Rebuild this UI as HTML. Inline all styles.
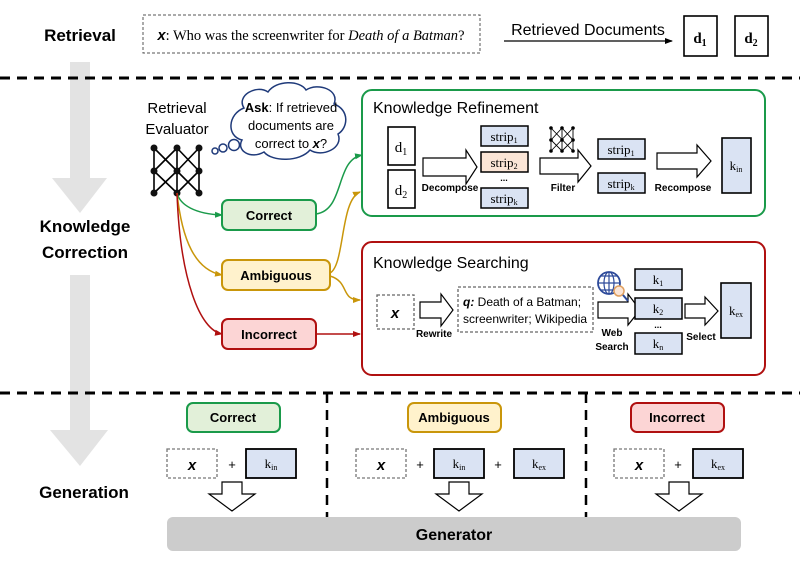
<!DOCTYPE html>
<html><head><meta charset="utf-8"><style>
html,body{margin:0;padding:0;background:#fff}
svg{display:block}
text{font-family:"Liberation Sans",sans-serif}
.s{font-family:"Liberation Serif",serif}
.b{font-weight:bold}
</style></head><body>
<svg width="800" height="563" viewBox="0 0 800 563" xmlns="http://www.w3.org/2000/svg">
<defs>
<marker id="ag" markerWidth="8" markerHeight="8" refX="7" refY="4" orient="auto" markerUnits="userSpaceOnUse"><path d="M0,1 L8,4 L0,7z" fill="#1a9a4a"/></marker>
<marker id="ay" markerWidth="8" markerHeight="8" refX="7" refY="4" orient="auto" markerUnits="userSpaceOnUse"><path d="M0,1 L8,4 L0,7z" fill="#c9960a"/></marker>
<marker id="ar" markerWidth="8" markerHeight="8" refX="7" refY="4" orient="auto" markerUnits="userSpaceOnUse"><path d="M0,1 L8,4 L0,7z" fill="#b01010"/></marker>
<marker id="ak" markerWidth="8" markerHeight="8" refX="7" refY="4" orient="auto" markerUnits="userSpaceOnUse"><path d="M0,1 L8,4 L0,7z" fill="#000"/></marker>
</defs>
<rect x="70" y="62" width="20" height="118" fill="#e3e3e3"/>
<path d="M52,178 L107,178 L80,213z" fill="#e3e3e3"/>
<rect x="70" y="275" width="20" height="157" fill="#e3e3e3"/>
<path d="M50,430 L108,430 L80,466z" fill="#e3e3e3"/>

<text x="80" y="41" text-anchor="middle" class="b" font-size="17">Retrieval</text>
<rect x="143" y="15" width="337" height="38" fill="none" stroke="#555" stroke-dasharray="3,2"/>
<text x="311" y="40" text-anchor="middle" class="s" font-size="14.5"><tspan font-weight="bold" font-style="italic" font-family="Liberation Sans">x</tspan>: Who was the screenwriter for <tspan font-style="italic">Death of a Batman</tspan>?</text>
<text x="588" y="35" text-anchor="middle" font-size="16">Retrieved Documents</text>
<line x1="504" y1="41" x2="672" y2="41" stroke="#000" stroke-width="1.3" marker-end="url(#ak)"/>
<rect x="684" y="16" width="33" height="40" fill="#fff" stroke="#000" stroke-width="1.6"/>
<text x="700" y="43" text-anchor="middle" class="s b" font-size="15">d<tspan font-size="10" dy="3">1</tspan></text>
<rect x="735" y="16" width="33" height="40" fill="#fff" stroke="#000" stroke-width="1.6"/>
<text x="751" y="43" text-anchor="middle" class="s b" font-size="15">d<tspan font-size="10" dy="3">2</tspan></text>

<line x1="0" y1="78" x2="800" y2="78" stroke="#000" stroke-width="3" stroke-dasharray="10,7"/>

<text x="85" y="232" text-anchor="middle" class="b" font-size="17">Knowledge</text>
<text x="85" y="258" text-anchor="middle" class="b" font-size="17">Correction</text>

<text x="177" y="113" text-anchor="middle" font-size="15">Retrieval</text>
<text x="177" y="134" text-anchor="middle" font-size="15">Evaluator</text>
<g stroke="#000" stroke-width="1.6">
<line x1="154" y1="148" x2="154" y2="193"/><line x1="177" y1="148" x2="177" y2="193"/><line x1="199" y1="148" x2="199" y2="193"/>
<line x1="154" y1="148" x2="177" y2="171"/><line x1="177" y1="148" x2="154" y2="171"/>
<line x1="177" y1="148" x2="199" y2="171"/><line x1="199" y1="148" x2="177" y2="171"/>
<line x1="154" y1="171" x2="177" y2="193"/><line x1="177" y1="171" x2="154" y2="193"/>
<line x1="177" y1="171" x2="199" y2="193"/><line x1="199" y1="171" x2="177" y2="193"/>
</g>
<g fill="#111">
<circle cx="154" cy="148" r="3.5"/><circle cx="177" cy="148" r="3.5"/><circle cx="199" cy="148" r="3.5"/>
<circle cx="154" cy="171" r="3.5"/><circle cx="177" cy="171" r="3.5"/><circle cx="199" cy="171" r="3.5"/>
<circle cx="154" cy="193" r="3.5"/><circle cx="177" cy="193" r="3.5"/><circle cx="199" cy="193" r="3.5"/>
</g>
<g fill="#fff" stroke="#1f3a7a" stroke-width="1.5">
<circle cx="215" cy="151" r="3"/><circle cx="223" cy="148" r="4"/><circle cx="234" cy="145" r="5.5"/>
<path d="M244,108 C236,96 256,84 268,92 C276,80 300,80 306,90 C318,82 340,90 334,104 C350,110 348,128 338,134 C344,148 322,158 310,150 C300,162 272,162 264,152 C250,160 236,150 242,140 C226,136 228,114 244,108z"/>
</g>
<text x="291" y="112" text-anchor="middle" font-size="13"><tspan class="b">Ask</tspan>: If retrieved</text>
<text x="291" y="130" text-anchor="middle" font-size="13">documents are</text>
<text x="291" y="148" text-anchor="middle" font-size="13">correct to <tspan class="b" font-style="italic">x</tspan>?</text>

<path d="M177,193 C180,205 195,214 222,215" fill="none" stroke="#1a9a4a" stroke-width="1.5" marker-end="url(#ag)"/>
<path d="M177,193 C182,240 195,270 222,275" fill="none" stroke="#c9960a" stroke-width="1.5" marker-end="url(#ay)"/>
<path d="M177,193 C180,280 200,330 222,334" fill="none" stroke="#b01010" stroke-width="1.5" marker-end="url(#ar)"/>
<path d="M316,214 C345,210 335,160 362,155" fill="none" stroke="#1a9a4a" stroke-width="1.5" marker-end="url(#ag)"/>
<path d="M330,273 C345,265 340,200 360,192" fill="none" stroke="#c9960a" stroke-width="1.5" marker-end="url(#ay)"/>
<path d="M330,276 C350,282 340,300 360,300" fill="none" stroke="#c9960a" stroke-width="1.5" marker-end="url(#ay)"/>
<line x1="316" y1="334" x2="360" y2="334" stroke="#b01010" stroke-width="1.5" marker-end="url(#ar)"/>

<rect x="222" y="200" width="94" height="30" rx="6" fill="#e2f0d9" stroke="#1a9a4a" stroke-width="2"/>
<text x="269" y="220" text-anchor="middle" class="b" font-size="13">Correct</text>
<rect x="222" y="260" width="108" height="30" rx="6" fill="#fff2cc" stroke="#c9960a" stroke-width="2"/>
<text x="276" y="280" text-anchor="middle" class="b" font-size="13">Ambiguous</text>
<rect x="222" y="319" width="94" height="30" rx="6" fill="#fcd5d5" stroke="#b01010" stroke-width="2"/>
<text x="269" y="339" text-anchor="middle" class="b" font-size="13">Incorrect</text>

<rect x="362" y="90" width="403" height="126" rx="10" fill="#fff" stroke="#1a9a4a" stroke-width="2"/>
<text x="373" y="113" font-size="16">Knowledge Refinement</text>
<rect x="388" y="127" width="27" height="38" fill="#fff" stroke="#000" stroke-width="1.6"/>
<text x="401" y="152" text-anchor="middle" class="s" font-size="15">d<tspan font-size="10" dy="3">1</tspan></text>
<rect x="388" y="170" width="27" height="38" fill="#fff" stroke="#000" stroke-width="1.6"/>
<text x="401" y="195" text-anchor="middle" class="s" font-size="15">d<tspan font-size="10" dy="3">2</tspan></text>
<path d="M423,158 L466,158 L466,150 L477,167 L466,184 L466,176 L423,176z" fill="#fff" stroke="#000" stroke-width="1.2"/>
<text x="450" y="191" text-anchor="middle" class="b" font-size="10">Decompose</text>
<rect x="481" y="126" width="47" height="20" fill="#dae3f3" stroke="#000" stroke-width="1.5"/>
<text x="504" y="141" text-anchor="middle" class="s" font-size="13">strip<tspan font-size="8" dy="2">1</tspan></text>
<rect x="481" y="152" width="47" height="20" fill="#fbe5d6" stroke="#000" stroke-width="1.5"/>
<text x="504" y="167" text-anchor="middle" class="s" font-size="13">strip<tspan font-size="8" dy="2">2</tspan></text>
<text x="504" y="181" text-anchor="middle" class="b" font-size="9">...</text>
<rect x="481" y="188" width="47" height="20" fill="#dae3f3" stroke="#000" stroke-width="1.5"/>
<text x="504" y="203" text-anchor="middle" class="s" font-size="13">strip<tspan font-size="8" dy="2">k</tspan></text>
<path d="M540,158 L578,158 L578,150 L591,166 L578,182 L578,174 L540,174z" fill="#fff" stroke="#000" stroke-width="1.2"/>
<text x="563" y="191" text-anchor="middle" class="b" font-size="10">Filter</text>
<g stroke="#000" stroke-width="0.9">
<line x1="551" y1="128" x2="551" y2="151"/><line x1="562" y1="128" x2="562" y2="151"/><line x1="573" y1="128" x2="573" y2="151"/>
<path d="M551,128 L573,151 M573,128 L551,151 M551,140 L562,128 L573,140 L562,151z" fill="none"/>
</g>
<g fill="#000"><circle cx="551" cy="128" r="1.8"/><circle cx="562" cy="128" r="1.8"/><circle cx="573" cy="128" r="1.8"/><circle cx="551" cy="140" r="1.8"/><circle cx="562" cy="140" r="1.8"/><circle cx="573" cy="140" r="1.8"/><circle cx="551" cy="151" r="1.8"/><circle cx="562" cy="151" r="1.8"/><circle cx="573" cy="151" r="1.8"/></g>
<rect x="598" y="139" width="47" height="20" fill="#dae3f3" stroke="#000" stroke-width="1.5"/>
<text x="621" y="154" text-anchor="middle" class="s" font-size="13">strip<tspan font-size="8" dy="2">1</tspan></text>
<rect x="598" y="173" width="47" height="20" fill="#dae3f3" stroke="#000" stroke-width="1.5"/>
<text x="621" y="188" text-anchor="middle" class="s" font-size="13">strip<tspan font-size="8" dy="2">k</tspan></text>
<path d="M657,153 L697,153 L697,145 L711,161 L697,177 L697,169 L657,169z" fill="#fff" stroke="#000" stroke-width="1.2"/>
<text x="683" y="191" text-anchor="middle" class="b" font-size="10">Recompose</text>
<rect x="722" y="138" width="29" height="55" fill="#dae3f3" stroke="#000" stroke-width="1.6"/>
<text x="736" y="170" text-anchor="middle" class="s" font-size="13">k<tspan font-size="8" dy="2">in</tspan></text>

<rect x="362" y="242" width="403" height="133" rx="10" fill="#fff" stroke="#b01010" stroke-width="2"/>
<text x="373" y="268" font-size="16">Knowledge Searching</text>
<rect x="377" y="295" width="37" height="34" fill="#fff" stroke="#666" stroke-width="1.3" stroke-dasharray="3,2"/>
<text x="395" y="318" text-anchor="middle" class="b" font-style="italic" font-size="15">x</text>
<path d="M420,302 L441,302 L441,294 L453,310 L441,326 L441,318 L420,318z" fill="#fff" stroke="#000" stroke-width="1.2"/>
<text x="434" y="337" text-anchor="middle" class="b" font-size="10">Rewrite</text>
<rect x="458" y="287" width="135" height="45" fill="#fff" stroke="#666" stroke-width="1.3" stroke-dasharray="3,2"/>
<text x="463" y="306" font-size="12"><tspan class="b" font-style="italic">q:</tspan> Death of a Batman;</text>
<text x="463" y="323" font-size="12">screenwriter; Wikipedia</text>
<path d="M598,302 L628,302 L628,294 L640,310 L628,325 L628,318 L598,318z" fill="#fff" stroke="#000" stroke-width="1.2"/>
<text x="612" y="336" text-anchor="middle" class="b" font-size="10">Web</text>
<text x="612" y="350" text-anchor="middle" class="b" font-size="10">Search</text>
<circle cx="609" cy="283" r="11" fill="#fff" stroke="#2d4a9a" stroke-width="1.8"/>
<path d="M598,283 L620,283 M609,272 L609,294 M601,276 L617,276 M601,290 L617,290" stroke="#2d4a9a" stroke-width="1.2"/>
<ellipse cx="609" cy="283" rx="5" ry="11" fill="none" stroke="#2d4a9a" stroke-width="1.2"/>
<circle cx="619" cy="291" r="5" fill="#fbe5d6" stroke="#e0a060" stroke-width="1.5"/>
<line x1="623" y1="295" x2="628" y2="301" stroke="#2d4a9a" stroke-width="2"/>
<rect x="635" y="269" width="47" height="21" fill="#dae3f3" stroke="#000" stroke-width="1.5"/>
<text x="658" y="284" text-anchor="middle" class="s" font-size="13">k<tspan font-size="8" dy="2">1</tspan></text>
<rect x="635" y="298" width="47" height="21" fill="#dae3f3" stroke="#000" stroke-width="1.5"/>
<text x="658" y="313" text-anchor="middle" class="s" font-size="13">k<tspan font-size="8" dy="2">2</tspan></text>
<text x="658" y="328" text-anchor="middle" class="b" font-size="9">...</text>
<rect x="635" y="333" width="47" height="21" fill="#dae3f3" stroke="#000" stroke-width="1.5"/>
<text x="658" y="348" text-anchor="middle" class="s" font-size="13">k<tspan font-size="8" dy="2">n</tspan></text>
<path d="M685,304 L705,304 L705,297 L718,311 L705,325 L705,318 L685,318z" fill="#fff" stroke="#000" stroke-width="1.2"/>
<text x="701" y="340" text-anchor="middle" class="b" font-size="10">Select</text>
<rect x="721" y="283" width="30" height="55" fill="#dae3f3" stroke="#000" stroke-width="1.6"/>
<text x="736" y="315" text-anchor="middle" class="s" font-size="13">k<tspan font-size="8" dy="2">ex</tspan></text>

<line x1="0" y1="393" x2="800" y2="393" stroke="#000" stroke-width="3" stroke-dasharray="10,7"/>
<line x1="327" y1="393" x2="327" y2="518" stroke="#000" stroke-width="2.5" stroke-dasharray="10,7"/>
<line x1="586" y1="393" x2="586" y2="518" stroke="#000" stroke-width="2.5" stroke-dasharray="10,7"/>

<text x="84" y="498" text-anchor="middle" class="b" font-size="17">Generation</text>
<rect x="187" y="403" width="93" height="29" rx="6" fill="#e2f0d9" stroke="#1a9a4a" stroke-width="2"/>
<text x="233" y="422" text-anchor="middle" class="b" font-size="13">Correct</text>
<rect x="408" y="403" width="93" height="29" rx="6" fill="#fff2cc" stroke="#c9960a" stroke-width="2"/>
<text x="454" y="422" text-anchor="middle" class="b" font-size="13">Ambiguous</text>
<rect x="631" y="403" width="93" height="29" rx="6" fill="#fcd5d5" stroke="#b01010" stroke-width="2"/>
<text x="677" y="422" text-anchor="middle" class="b" font-size="13">Incorrect</text>

<g>
<rect x="167" y="449" width="50" height="29" fill="#fff" stroke="#777" stroke-width="1.3" stroke-dasharray="3,2"/>
<text x="192" y="470" text-anchor="middle" class="b" font-style="italic" font-size="15">x</text>
<text x="232" y="469" text-anchor="middle" font-size="13">+</text>
<rect x="246" y="449" width="50" height="29" fill="#dae3f3" stroke="#000" stroke-width="1.8"/>
<text x="271" y="468" text-anchor="middle" class="s" font-size="13">k<tspan font-size="8" dy="2">in</tspan></text>

<rect x="356" y="449" width="50" height="29" fill="#fff" stroke="#777" stroke-width="1.3" stroke-dasharray="3,2"/>
<text x="381" y="470" text-anchor="middle" class="b" font-style="italic" font-size="15">x</text>
<text x="420" y="469" text-anchor="middle" font-size="13">+</text>
<rect x="434" y="449" width="50" height="29" fill="#dae3f3" stroke="#000" stroke-width="1.8"/>
<text x="459" y="468" text-anchor="middle" class="s" font-size="13">k<tspan font-size="8" dy="2">in</tspan></text>
<text x="498" y="469" text-anchor="middle" font-size="13">+</text>
<rect x="514" y="449" width="50" height="29" fill="#dae3f3" stroke="#000" stroke-width="1.8"/>
<text x="539" y="468" text-anchor="middle" class="s" font-size="13">k<tspan font-size="8" dy="2">ex</tspan></text>

<rect x="614" y="449" width="50" height="29" fill="#fff" stroke="#777" stroke-width="1.3" stroke-dasharray="3,2"/>
<text x="639" y="470" text-anchor="middle" class="b" font-style="italic" font-size="15">x</text>
<text x="678" y="469" text-anchor="middle" font-size="13">+</text>
<rect x="693" y="449" width="50" height="29" fill="#dae3f3" stroke="#000" stroke-width="1.8"/>
<text x="718" y="468" text-anchor="middle" class="s" font-size="13">k<tspan font-size="8" dy="2">ex</tspan></text>
</g>

<path d="M222,482 L242,482 L242,494 L255,494 L232,511 L209,494 L222,494z" fill="#fff" stroke="#000" stroke-width="1.2"/>
<path d="M449,482 L469,482 L469,494 L482,494 L459,511 L436,494 L449,494z" fill="#fff" stroke="#000" stroke-width="1.2"/>
<path d="M669,482 L689,482 L689,494 L702,494 L679,511 L656,494 L669,494z" fill="#fff" stroke="#000" stroke-width="1.2"/>

<rect x="167" y="517" width="574" height="34" rx="6" fill="#cccccc"/>
<text x="454" y="540" text-anchor="middle" class="b" font-size="16">Generator</text>
</svg>
</body></html>
